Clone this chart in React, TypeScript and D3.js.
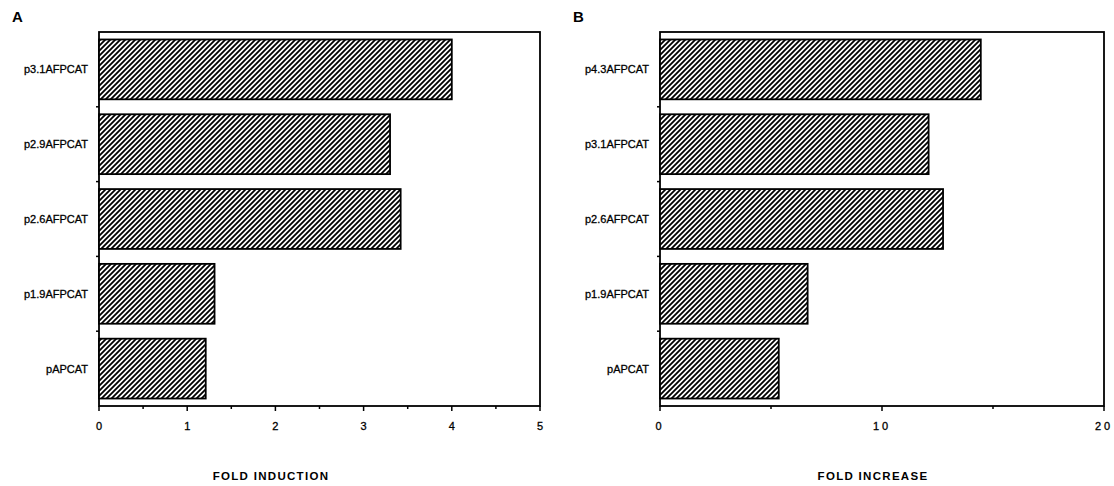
import React from 'react';
import * as d3 from 'd3';

const categoriesA = ['p3.1AFPCAT', 'p2.9AFPCAT', 'p2.6AFPCAT', 'p1.9AFPCAT', 'pAPCAT'];
const valuesA = [4.0, 3.3, 3.42, 1.31, 1.21];
const ticksA = [0, 1, 2, 3, 4, 5];
const minorA = [0.5, 1.5, 2.5, 3.5, 4.5];

const categoriesB = ['p4.3AFPCAT', 'p3.1AFPCAT', 'p2.6AFPCAT', 'p1.9AFPCAT', 'pAPCAT'];
const valuesB = [14.45, 12.1, 12.75, 6.65, 5.35];
const ticksB = [0, 10, 20];
const minorB = [5, 15];

const font = '"Liberation Sans", Arial, sans-serif';

function Panel(props: {
  letter: string; cats: string[]; vals: number[]; max: number;
  ticks: number[]; minor: number[]; x0: number; x1: number;
  title: string; titleX: number; spacing: number; letterX: number;
})
{
  const top = 32, bottom = 406;
  const x = d3.scaleLinear().domain([0, props.max]).range([props.x0, props.x1]);
  const y = d3.scaleBand<string>().domain(props.cats).range([top, bottom])
    .paddingInner(0.2).paddingOuter(0.1);
  const bounds = props.cats.slice(1).map(c => (y(c) as number) - y.step() * y.paddingInner() / 2);

  return (
    <g>
      <text x={props.letterX} y={22} fontFamily={font} fontWeight="bold" fontSize={15}>{props.letter}</text>
      <rect x={props.x0} y={top} width={props.x1 - props.x0} height={bottom - top}
            fill="none" stroke="#000" strokeWidth={1.8}/>
      {props.cats.map((c, i) => (
        <rect key={c} x={x(0)} y={y(c)} width={x(props.vals[i]) - x(0)} height={y.bandwidth()}
              fill="url(#hatch)" stroke="#000" strokeWidth={1.8}/>
      ))}
      {props.cats.map(c => (
        <text key={c} x={props.x0 - 11} y={(y(c) as number) + y.bandwidth() / 2 + 4}
              textAnchor="end" fontFamily={font} fontSize={11} stroke="#000" strokeWidth={0.3}>{c}</text>
      ))}
      {bounds.map((b, i) => (
        <line key={i} x1={props.x0 - 3} x2={props.x0} y1={b} y2={b} stroke="#000" strokeWidth={1.5}/>
      ))}
      {props.ticks.map(t => (
        <g key={t}>
          <line x1={x(t)} x2={x(t)} y1={bottom} y2={bottom + 5} stroke="#000" strokeWidth={1.5}/>
          <text x={x(t)} y={bottom + 24} textAnchor="middle" fontFamily={font} fontSize={11}
                stroke="#000" strokeWidth={0.3} letterSpacing={props.spacing}>{t}</text>
        </g>
      ))}
      {props.minor.map(t => (
        <line key={t} x1={x(t)} x2={x(t)} y1={bottom} y2={bottom + 3} stroke="#000" strokeWidth={1.5}/>
      ))}
      <text x={props.titleX} y={480} textAnchor="middle" fontFamily={font} fontWeight="bold"
            fontSize={11.5} letterSpacing={1.3}>{props.title}</text>
    </g>
  );
}

export default function App()
{
  return (
    <svg width={1114} height={486} style={{position: 'absolute', left: 0, top: 0, background: '#fff'}}>
      <defs>
        {/* "/" hatching, drawn explicitly so the direction is certain */}
        <pattern id="hatch" patternUnits="userSpaceOnUse" width={5} height={5}>
          <rect width={5} height={5} fill="#fff"/>
          <path d="M0,5 L5,0 M-1,1 L1,-1 M4,6 L6,4" stroke="#000" strokeWidth={1.8}/>
        </pattern>
      </defs>
      <Panel letter="A" cats={categoriesA} vals={valuesA} max={5} ticks={ticksA} minor={minorA}
             x0={99} x1={540} title="FOLD INDUCTION" titleX={271} spacing={0} letterX={12}/>
      <Panel letter="B" cats={categoriesB} vals={valuesB} max={20} ticks={ticksB} minor={minorB}
             x0={660} x1={1104} title="FOLD INCREASE" titleX={873} spacing={3} letterX={573}/>
    </svg>
  );
}
